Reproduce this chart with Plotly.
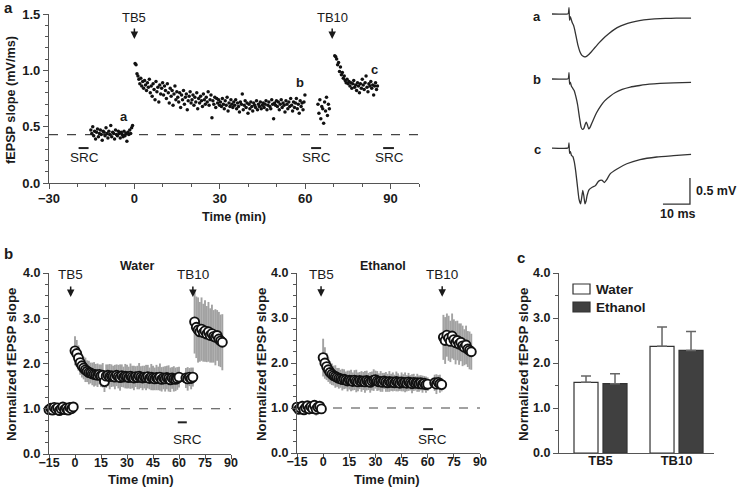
import numpy as np
import plotly.graph_objects as go

W, H = 737, 493
def px(x): return x / W
def py(y): return 1 - y / H

FONT = "Liberation Sans"
TXT = "#1a1a1a"
AX = "#555555"

# ---------------- Panel a: single-slice fEPSP slope (mV/ms) ----------------
A_STEP = 1 / 3  # sampling interval (min)
A_BASE_T0, A_TB5_T0, A_SRC_T0, A_TB10_T0 = -15.3, 0.25, 64.5, 70.4
A_BASE = [0.47,0.44,0.50,0.42,0.46,0.39,0.45,0.48,0.41,0.44,0.47,0.43,0.38,0.46,0.45,
          0.42,0.49,0.44,0.40,0.46,0.43,0.51,0.41,0.45,0.44,0.39,0.47,0.43,0.42,0.46,
          0.44,0.40,0.45,0.43,0.41,0.46,0.42,0.44,0.37,0.45,0.43,0.47,0.44,0.49,0.51]
A_TB5 = [1.06,1.05,0.97,0.95,0.92,0.88,0.93,0.86,0.90,0.84,0.91,0.87,0.82,0.89,0.85,
         0.92,0.80,0.86,0.77,0.88,0.83,0.74,0.90,0.81,0.85,0.72,0.87,0.79,0.84,0.89,
         0.78,0.86,0.82,0.75,0.88,0.80,0.71,0.84,0.77,0.82,0.69,0.79,0.86,0.74,0.81,
         0.76,0.72,0.80,0.67,0.78,0.74,0.82,0.70,0.76,0.79,0.65,0.73,0.77,0.81,0.71,
         0.74,0.78,0.69,0.76,0.72,0.80,0.66,0.75,0.71,0.77,0.73,0.68,0.79,0.74,0.70,
         0.76,0.72,0.81,0.69,0.74,0.78,0.58,0.73,0.70,0.76,0.67,0.75,0.71,0.74,0.69,
         0.72,0.68,0.75,0.70,0.66,0.73,0.69,0.76,0.64,0.71,0.68,0.74,0.70,0.67,0.72,
         0.69,0.74,0.66,0.71,0.68,0.63,0.72,0.70,0.79,0.65,0.69,0.73,0.67,0.71,0.62,
         0.70,0.66,0.72,0.68,0.64,0.71,0.69,0.67,0.73,0.65,0.70,0.68,0.72,0.66,0.69,
         0.71,0.67,0.70,0.73,0.65,0.69,0.72,0.68,0.66,0.74,0.70,0.57,0.71,0.69,0.73,
         0.68,0.72,0.65,0.70,0.74,0.67,0.71,0.69,0.63,0.73,0.70,0.66,0.72,0.68,0.75,
         0.69,0.64,0.72,0.67,0.71,0.75,0.66,0.70,0.62,0.73,0.68,0.71,0.65,0.72,0.78]
A_SRC = [0.70,0.62,0.74,0.57,0.68,0.66,0.53,0.72,0.64,0.76,0.60,0.70,0.66]
A_TB10 = [1.13,1.12,1.10,1.05,1.07,0.99,1.03,0.96,0.98,0.93,0.95,0.91,0.89,0.92,0.88,
          0.90,0.86,0.89,0.84,0.88,0.91,0.85,0.87,0.82,0.89,0.86,0.80,0.88,0.84,0.92,
          0.87,0.83,0.89,0.95,0.85,0.81,0.88,0.86,0.90,0.84,0.87,0.78,0.86,0.89,0.83,0.86]
A_BASELINE_LEVEL = 0.43

# ---------------- Sample traces (ms, mV) ----------------
TR_A_T = [0,5.8,6.1,6.3,6.5,6.8,7.2,7.6,8.0,8.4,9.0,9.6,10.3,11.0,11.8,12.6,13.4,14.5,16,17.5,19,21,23,25.5,28,31,34,38,42,46,51.5]
TR_A_V = [0,0,0.02,0.12,-0.12,-0.05,-0.12,-0.18,-0.22,-0.30,-0.45,-0.60,-0.72,-0.79,-0.82,-0.82,-0.79,-0.73,-0.64,-0.55,-0.47,-0.38,-0.30,-0.23,-0.18,-0.14,-0.115,-0.095,-0.085,-0.08,-0.08]
TR_B_T = [0,5.8,6.1,6.3,6.5,6.8,7.2,7.7,8.2,8.8,9.5,10.2,10.8,11.3,11.8,12.3,12.7,13.1,13.6,14.1,15.0,16.5,18.0,19.5,21.5,23.5,26,29,32.5,36,40,45,51.5]
TR_B_V = [0,0,0.02,0.12,-0.10,-0.06,-0.14,-0.18,-0.22,-0.33,-0.50,-0.75,-0.93,-0.97,-0.95,-0.87,-0.83,-0.88,-0.96,-0.93,-0.82,-0.65,-0.52,-0.42,-0.33,-0.26,-0.20,-0.155,-0.125,-0.10,-0.085,-0.075,-0.065]
TR_C_T = [0,5.8,6.1,6.3,6.5,6.8,7.2,7.7,8.2,8.8,9.4,10.0,10.6,11.0,11.4,11.8,12.2,12.6,13.0,13.7,14.9,16.1,17.0,17.8,18.6,19.4,20.2,21.6,24.1,27.7,32.6,38.8,45,51.5]
TR_C_V = [0,0,0.02,0.10,-0.10,-0.06,-0.14,-0.16,-0.25,-0.45,-0.72,-0.98,-1.07,-0.95,-0.81,-0.92,-1.07,-1.02,-0.91,-0.80,-0.75,-0.72,-0.65,-0.62,-0.62,-0.66,-0.61,-0.49,-0.40,-0.30,-0.22,-0.17,-0.145,-0.12]
TRACE_LABELS = ["a", "b", "c"]
SCALE_MV, SCALE_MS = 0.5, 10

# ---------------- Panel b: normalized slopes (mean, SEM) ----------------
B_BASE_T0, B_TB5_T0, B_SRC_T0, B_TB10_T0 = -15, 0, 64, 69
W_BASE_M = [0.98,1.01,0.97,1.03,0.99,1.02,0.96,1.00,1.04,0.98,1.01,0.97,1.03,1.00,1.04]
W_BASE_S = [0.06,0.07,0.05,0.08,0.06,0.07,0.05,0.06,0.08,0.06,0.07,0.05,0.07,0.06,0.09]
W_TB5_M = [2.28,2.22,2.12,2.02,1.95,1.90,1.86,1.83,1.80,1.79,
           1.77,1.76,1.75,1.74,1.76,1.73,1.74,1.60,1.72,1.74,
           1.71,1.73,1.72,1.70,1.74,1.71,1.69,1.73,1.70,1.72,
           1.71,1.69,1.72,1.70,1.68,1.71,1.69,1.72,1.70,1.68,
           1.70,1.69,1.71,1.67,1.70,1.68,1.66,1.69,1.67,1.70,
           1.65,1.68,1.66,1.69,1.67,1.64,1.68,1.66,1.65,1.67,
           1.70]
W_TB5_S = [0.32,0.30,0.28,0.27,0.26,0.25,0.27,0.24,0.26,0.23,
           0.25,0.27,0.24,0.26,0.22,0.25,0.27,0.23,0.26,0.24,
           0.28,0.25,0.23,0.27,0.24,0.26,0.29,0.25,0.23,0.27,
           0.26,0.24,0.28,0.25,0.27,0.23,0.26,0.29,0.24,0.27,
           0.25,0.28,0.26,0.24,0.29,0.27,0.25,0.28,0.26,0.30,
           0.27,0.25,0.28,0.26,0.29,0.27,0.24,0.28,0.26,0.25,
           0.23]
W_SRC_M = [1.68,1.66,1.70,1.67,1.70]
W_SRC_S = [0.22,0.26,0.20,0.24,0.21]
W_TB10_M = [2.92,2.80,2.74,2.70,2.76,2.68,2.72,2.65,2.70,2.62,2.66,2.60,2.58,2.62,2.54,2.50,2.47]
W_TB10_S = [0.70,0.68,0.72,0.66,0.70,0.64,0.68,0.62,0.66,0.60,0.64,0.58,0.62,0.56,0.60,0.58,0.62]

E_BASE_M = [1.02,0.97,1.00,1.04,0.96,1.01,1.05,0.98,1.03,0.99,1.06,0.97,1.02,1.04,0.98]
E_BASE_S = [0.08,0.10,0.07,0.12,0.09,0.11,0.08,0.13,0.09,0.12,0.10,0.14,0.09,0.12,0.10]
E_TB5_M = [2.12,2.00,1.92,1.85,1.79,1.75,1.72,1.70,1.68,1.66,
           1.65,1.63,1.64,1.62,1.60,1.62,1.61,1.59,1.62,1.60,
           1.58,1.61,1.59,1.60,1.58,1.61,1.59,1.57,1.60,1.62,
           1.63,1.60,1.58,1.59,1.57,1.60,1.58,1.56,1.59,1.57,
           1.58,1.56,1.59,1.57,1.55,1.58,1.56,1.57,1.55,1.58,
           1.56,1.54,1.57,1.55,1.56,1.54,1.56,1.53,1.55,1.52,
           1.53]
E_TB5_S = [0.42,0.35,0.30,0.27,0.25,0.24,0.22,0.25,0.21,0.23,
           0.20,0.24,0.22,0.19,0.23,0.21,0.24,0.20,0.22,0.25,
           0.21,0.19,0.23,0.20,0.24,0.22,0.19,0.23,0.21,0.24,
           0.20,0.22,0.19,0.23,0.21,0.18,0.22,0.20,0.23,0.19,
           0.21,0.18,0.22,0.20,0.17,0.21,0.19,0.22,0.18,0.20,
           0.17,0.21,0.19,0.16,0.20,0.18,0.17,0.19,0.16,0.18,
           0.15]
E_SRC_M = [1.56,1.53,1.57,1.54,1.52]
E_SRC_S = [0.18,0.22,0.16,0.20,0.15]
E_TB10_M = [2.57,2.50,2.62,2.55,2.48,2.60,2.52,2.45,2.50,2.42,2.46,2.38,2.35,2.40,2.31,2.28,2.25]
E_TB10_S = [0.50,0.52,0.48,0.50,0.46,0.50,0.45,0.48,0.44,0.46,0.42,0.45,0.40,0.43,0.40,0.42,0.40]

# ---------------- Panel c: summary bars ----------------
C_CATS = ["TB5", "TB10"]
C_WATER = [1.57, 2.37]
C_WATER_ERR = [0.14, 0.43]
C_ETHANOL = [1.54, 2.28]
C_ETHANOL_ERR = [0.22, 0.42]
C_SERIES = ["Water", "Ethanol"]
C_FILLS = ["white", "#404040"]


def seg_times(t0, n, step):
    return list(t0 + step * np.arange(n))


fig = go.Figure()

# panel a scatter
a_t, a_v = [], []
for t0, vals in [(A_BASE_T0, A_BASE), (A_TB5_T0, A_TB5), (A_SRC_T0, A_SRC), (A_TB10_T0, A_TB10)]:
    a_t += seg_times(t0, len(vals), A_STEP)
    a_v += vals
fig.add_trace(go.Scatter(x=a_t, y=a_v, mode="markers", xaxis="x", yaxis="y",
                         marker=dict(size=3.5, color="#111111"), showlegend=False,
                         cliponaxis=False))

# traces
OFFSETS = [0, -1.25, -2.58]
for (tt, vv), off in zip([(TR_A_T, TR_A_V), (TR_B_T, TR_B_V), (TR_C_T, TR_C_V)], OFFSETS):
    fig.add_trace(go.Scatter(x=tt, y=[v + off for v in vv], mode="lines", xaxis="x5", yaxis="y5",
                             line=dict(color="#333333", width=1.3, shape="spline", smoothing=0.4),
                             showlegend=False))
# scale bar
SB_X, SB_Y = 51.1, -3.654
fig.add_trace(go.Scatter(x=[SB_X - SCALE_MS, SB_X, SB_X], y=[SB_Y, SB_Y, SB_Y + SCALE_MV],
                         mode="lines", xaxis="x5", yaxis="y5",
                         line=dict(color="#333333", width=1.3), showlegend=False))

# panel b
def panel_b(segs, xa, ya):
    t, m, s = [], [], []
    for t0, mm, ss in segs:
        t += seg_times(t0, len(mm), 1)
        m += mm
        s += ss
    fig.add_trace(go.Scatter(x=t, y=m, mode="markers", xaxis=xa, yaxis=ya, showlegend=False,
                             cliponaxis=False,
                             marker=dict(size=9, color="white", line=dict(color="#111111", width=1.9)),
                             error_y=dict(type="data", array=s, color="#a2a2a2", thickness=1.9, width=0)))

panel_b([(B_BASE_T0, W_BASE_M, W_BASE_S), (B_TB5_T0, W_TB5_M, W_TB5_S),
         (B_SRC_T0, W_SRC_M, W_SRC_S), (B_TB10_T0, W_TB10_M, W_TB10_S)], "x2", "y2")
panel_b([(B_BASE_T0, E_BASE_M, E_BASE_S), (B_TB5_T0, E_TB5_M, E_TB5_S),
         (B_SRC_T0, E_SRC_M, E_SRC_S), (B_TB10_T0, E_TB10_M, E_TB10_S)], "x3", "y3")

# panel c
for name, vals, errs, fill in zip(C_SERIES, [C_WATER, C_ETHANOL], [C_WATER_ERR, C_ETHANOL_ERR], C_FILLS):
    fig.add_trace(go.Bar(name=name, x=C_CATS, y=vals, xaxis="x4", yaxis="y4", showlegend=False,
                         marker=dict(color=fill, line=dict(color="#333333", width=1.2)),
                         error_y=dict(type="data", symmetric=False, array=errs, arrayminus=[0, 0],
                                      color="#666666", thickness=1.5, width=5)))

tickfont13 = dict(family=FONT, size=13, color=TXT, weight="bold")
tickfont12 = dict(family=FONT, size=12.5, color=TXT, weight="bold")

def axis(domain, rng, **kw):
    d = dict(domain=domain, range=rng, showline=True, linecolor=AX, linewidth=1.2,
             ticks="outside", ticklen=5, tickcolor=AX, tickwidth=1.2, showgrid=False,
             zeroline=False, automargin=False, fixedrange=True)
    d.update(kw)
    return d

minor = lambda dt: dict(dtick=dt, ticks="outside", ticklen=3, tickcolor=AX, tickwidth=1, showgrid=False)

layout = dict(
    width=W, height=H, autosize=False, margin=dict(l=0, r=0, t=0, b=0),
    paper_bgcolor="white", plot_bgcolor="white", template="none",
    barmode="group", bargap=0.237, bargroupgap=0.172, showlegend=False,
    xaxis=axis([px(49), px(419)], [-30, 100], anchor="y", tickmode="linear", tick0=0, dtick=30,
               tickfont=tickfont13, minor=minor(10), ticklabelstandoff=-2),
    yaxis=axis([py(183), py(14)], [0, 1.5], anchor="x", tickmode="linear", tick0=0, dtick=0.5,
               tickformat=".1f", tickfont=tickfont13, minor=minor(0.1)),
    xaxis2=axis([px(49), px(231)], [-15, 90], anchor="y2", tickmode="linear", tick0=0, dtick=15,
                tickfont=tickfont12, ticklen=4, ticklabelstandoff=-7),
    yaxis2=axis([py(454), py(273)], [0, 4], anchor="x2", tickmode="linear", tick0=0, dtick=1,
                tickformat=".1f", tickfont=tickfont12, minor=minor(0.25)),
    xaxis3=axis([px(297), px(480)], [-15, 90], anchor="y3", tickmode="linear", tick0=0, dtick=15,
                tickfont=tickfont12, ticklen=4, ticklabelstandoff=-7),
    yaxis3=axis([py(453), py(273)], [0, 4], anchor="x3", tickmode="linear", tick0=0, dtick=1,
                tickformat=".1f", tickfont=tickfont12, minor=minor(0.25)),
    xaxis4=axis([px(559), px(714)], [-0.546, 1.493], anchor="y4", type="category", ticks="",
                tickfont=tickfont13, ticklabelstandoff=-5),
    yaxis4=axis([py(453), py(273)], [0, 4], anchor="x4", tickmode="linear", tick0=0, dtick=1,
                tickformat=".1f", tickfont=tickfont12, minor=minor(0.5)),
    xaxis5=dict(domain=[px(540), px(720)], range=[-4.444, 62.22], visible=False, anchor="y5", fixedrange=True),
    yaxis5=dict(domain=[py(215), py(5)], range=[-3.865, 0.173], visible=False, anchor="x5", fixedrange=True),
)

shapes = [
    dict(type="line", xref="x domain", yref="y", x0=0, x1=1, y0=A_BASELINE_LEVEL, y1=A_BASELINE_LEVEL,
         line=dict(color="#444444", width=1.2, dash="dash"), layer="below"),
    dict(type="line", xref="x2 domain", yref="y2", x0=0, x1=1, y0=1, y1=1,
         line=dict(color="#444444", width=1.2, dash="dash"), layer="below"),
    dict(type="line", xref="x3 domain", yref="y3", x0=0, x1=1, y0=1, y1=1,
         line=dict(color="#444444", width=1.2, dash="dash"), layer="below"),
]
# SRC bars (x0, x1, y, xref, yref)
for x0, x1, yy, xr, yr in [(-19.6, -16.1, 0.31, "x", "y"), (62.1, 65.6, 0.31, "x", "y"),
                           (87.4, 91.2, 0.31, "x", "y"), (59.3, 64.5, 0.70, "x2", "y2"),
                           (57.4, 63.0, 0.53, "x3", "y3")]:
    shapes.append(dict(type="line", xref=xr, yref=yr, x0=x0, x1=x1, y0=yy, y1=yy,
                       line=dict(color="#222222", width=2)))
# legend keys for panel c (paper pixels)
for (y0, y1), fill in zip([(284, 294), (302, 312)], C_FILLS):
    shapes.append(dict(type="rect", xref="paper", yref="paper", x0=px(573), x1=px(590),
                       y0=py(y1), y1=py(y0), fillcolor=fill, line=dict(color="#333333", width=1.2)))
layout["shapes"] = shapes

ann = []
def text(t, x, y, xref="paper", yref="paper", size=13, bold=False, **kw):
    d = dict(text=t, x=x, y=y, xref=xref, yref=yref, showarrow=False,
             xanchor="center", yanchor="middle",
             font=dict(family=FONT, size=size, color=TXT, weight="bold" if bold else "normal"))
    d.update(kw)
    ann.append(d)

def arrow(x, y, xref, yref):
    ann.append(dict(text="", x=x, y=y, xref=xref, yref=yref, showarrow=True, ax=0, ay=-12,
                    arrowhead=2, arrowsize=1, arrowwidth=1.5, arrowcolor=TXT))

# panel letters
text("a", px(2), py(7), size=15, bold=True, xanchor="left")
text("b", px(2), py(254), size=15, bold=True, xanchor="left")
text("c", px(515), py(257), size=15, bold=True, xanchor="left")

# panel a
text("fEPSP slope (mV/ms)", px(11), py(100), size=12.7, bold=True, textangle=-90)
text("Time (min)", px(234), py(217), size=12.7, bold=True)
text("TB5", 0, 1.473, "x", "y")
arrow(0, 1.278, "x", "y")
text("TB10", 69.5, 1.473, "x", "y")
arrow(69.5, 1.278, "x", "y")
text("a", -3.5, 0.59, "x", "y", size=13, bold=True)
text("b", 58.2, 0.89, "x", "y", size=13, bold=True)
text("c", 84.3, 1.01, "x", "y", size=13, bold=True)
for xx in [-17.5, 64, 89.8]:
    text("SRC", xx, 0.23, "x", "y", size=13.5)

# traces labels and scale
for lab, yy in zip(TRACE_LABELS, [16, 79, 149]):
    text(lab, px(537), py(yy), size=13, bold=True)
text("0.5 mV", px(694), py(191), size=12.5, bold=True, xanchor="left")
text("10 ms", px(677), py(214), size=12.5, bold=True)

# panel b
text("Normalized fEPSP slope", px(11), py(365), size=13.3, bold=True, textangle=-90)
text("Normalized fEPSP slope", px(261), py(365), size=13.3, bold=True, textangle=-90)
text("Water", px(137), py(266), size=12.5, bold=True)
text("Ethanol", px(383), py(266), size=12.5, bold=True)
text("Time (min)", px(141), py(479), size=13, bold=True)
text("Time (min)", px(387), py(479), size=13, bold=True)
for xr, yr, t5, t10 in [("x2", "y2", -2.5, 68.0), ("x3", "y3", -1.2, 68.3)]:
    text("TB5", t5, 3.96, xr, yr, size=13.5)
    arrow(t5, 3.47, xr, yr)
    text("TB10", t10, 3.96, xr, yr, size=13.5)
    arrow(t10, 3.47, xr, yr)
text("SRC", 65.1, 0.33, "x2", "y2", size=13.5)
text("SRC", 63.0, 0.29, "x3", "y3", size=13.5)

# panel c
text("Normalized fEPSP slope", px(523), py(365), size=13.3, bold=True, textangle=-90)
for name, yy in zip(C_SERIES, [289, 307]):
    text(name, px(594), py(yy), size=13.5, bold=True, xanchor="left")

layout["annotations"] = ann
fig.update_layout(**layout)
fig.write_html("out.html", config={"displayModeBar": False},
               post_script="document.body.style.margin='0';")
